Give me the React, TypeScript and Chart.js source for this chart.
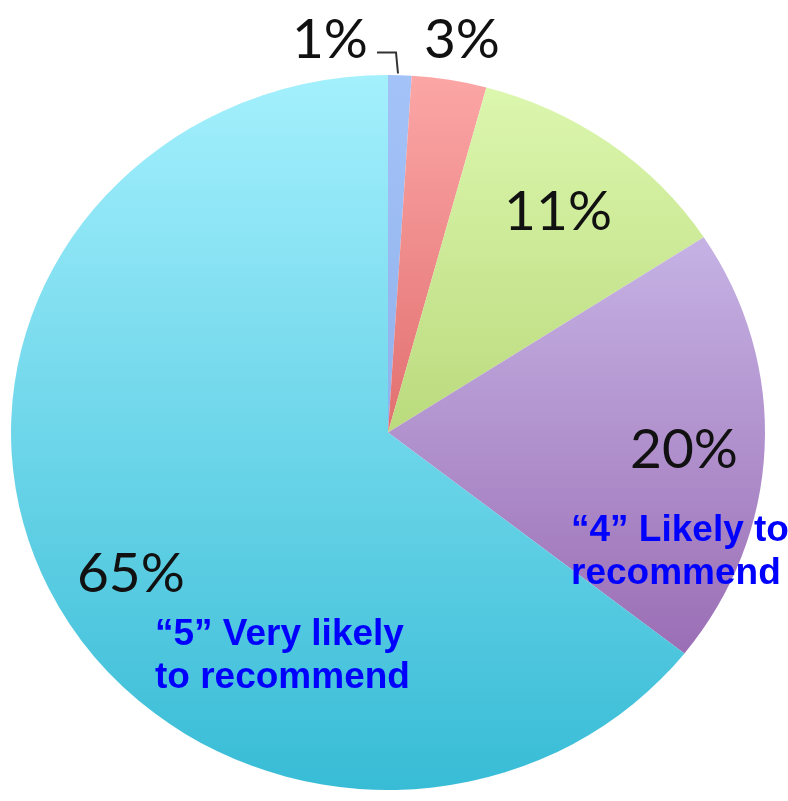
import { useEffect, useRef } from 'react';
import { Chart, registerables } from 'chart.js';

Chart.register(...registerables);

const categories = ['"1"', '"2"', '"3"', '"4" Likely to recommend', '"5" Very likely to recommend'];
const shares = [1, 3.2, 11.6, 19.8, 64.4];
const percentLabels = ['1%', '3%', '11%', '20%', '65%'];
const calloutLines4 = ['\u201C4\u201D Likely to', 'recommend'];
const calloutLines5 = ['\u201C5\u201D Very likely', 'to recommend'];

// vertical gradient stops (top -> bottom of the pie)
const gradientStops: string[][] = [
  ['#a3c3f8', '#7f9ee0'],
  ['#fca6a6', '#c83a3a'],
  ['#ddf8b0', '#98bd4a'],
  ['#d6cdf6', '#8d58a6'],
  ['#a4f0fd', '#38bcd6'],
];

const X_STRETCH = 377 / 357.5;

export default function App() {
  const ref = useRef<HTMLCanvasElement | null>(null);

  useEffect(() => {
    const canvas = ref.current;
    if (!canvas) return;

    const stretch = {
      id: 'stretch',
      beforeDatasetsDraw(chart: any) {
        const meta = chart.getDatasetMeta(0);
        const arc = meta.data[0];
        const ctx = chart.ctx;
        ctx.save();
        ctx.translate(arc.x, arc.y);
        ctx.scale(X_STRETCH, 1);
        ctx.translate(-arc.x, -arc.y);
      },
      afterDatasetsDraw(chart: any) {
        chart.ctx.restore();
      },
    };

    const labels = {
      id: 'labelsPlugin',
      afterDraw(chart: any) {
        const ctx = chart.ctx;
        const arc = chart.getDatasetMeta(0).data[0];
        const cx = arc.x;
        const cy = arc.y;
        const ry = arc.outerRadius;
        const rx = ry * X_STRETCH;
        const pos = [
          [-0.154, -1.098],
          [0.196, -1.098],
          [0.451, -0.617],
          [0.785, 0.049],
          [-0.682, 0.396],
        ];
        ctx.save();
        ctx.fillStyle = '#111111';
        ctx.font = '400 55px Lato';
        ctx.textAlign = 'center';
        ctx.textBaseline = 'middle';
        percentLabels.forEach((t, i) => {
          ctx.fillText(t, cx + pos[i][0] * rx, cy + pos[i][1] * ry);
        });
        // leader line for 1%
        ctx.strokeStyle = '#333333';
        ctx.lineWidth = 2;
        ctx.beginPath();
        ctx.moveTo(cx - 11, cy - 380);
        ctx.lineTo(cx + 8, cy - 380);
        ctx.lineTo(cx + 10, cy - 359);
        ctx.stroke();

        ctx.fillStyle = '#0000ff';
        ctx.font = 'bold 37px "Liberation Sans", Arial, sans-serif';
        ctx.textAlign = 'left';
        ctx.textBaseline = 'alphabetic';
        calloutLines4.forEach((t, i) => ctx.fillText(t, cx + 183, cy + 108 + i * 43));
        calloutLines5.forEach((t, i) => ctx.fillText(t, cx - 233, cy + 212 + i * 43));
        ctx.restore();
      },
    };

    const chart = new Chart(canvas, {
      type: 'pie',
      data: {
        labels: categories,
        datasets: [
          {
            data: shares,
            borderWidth: 0,
            backgroundColor: (c: any) => {
              const i = c.dataIndex ?? 0;
              const area = c.chart.chartArea;
              if (!area) return gradientStops[i][0];
              const g = c.chart.ctx.createLinearGradient(0, area.top, 0, area.bottom);
              g.addColorStop(0, gradientStops[i][0]);
              g.addColorStop(1, gradientStops[i][1]);
              return g;
            },
          },
        ],
      },
      options: {
        responsive: false,
        animation: false,
        events: [],
        layout: { padding: { top: 75, bottom: 11, left: 30, right: 42 } },
        plugins: {
          legend: { display: false },
          tooltip: { enabled: false },
        },
      },
      plugins: [stretch, labels],
    });

    return () => chart.destroy();
  }, []);

  return (
    <div style={{ position: 'fixed', left: 0, top: 0, width: 788, height: 801, background: '#ffffff' }}>
      <canvas ref={ref} width={788} height={801} />
    </div>
  );
}
